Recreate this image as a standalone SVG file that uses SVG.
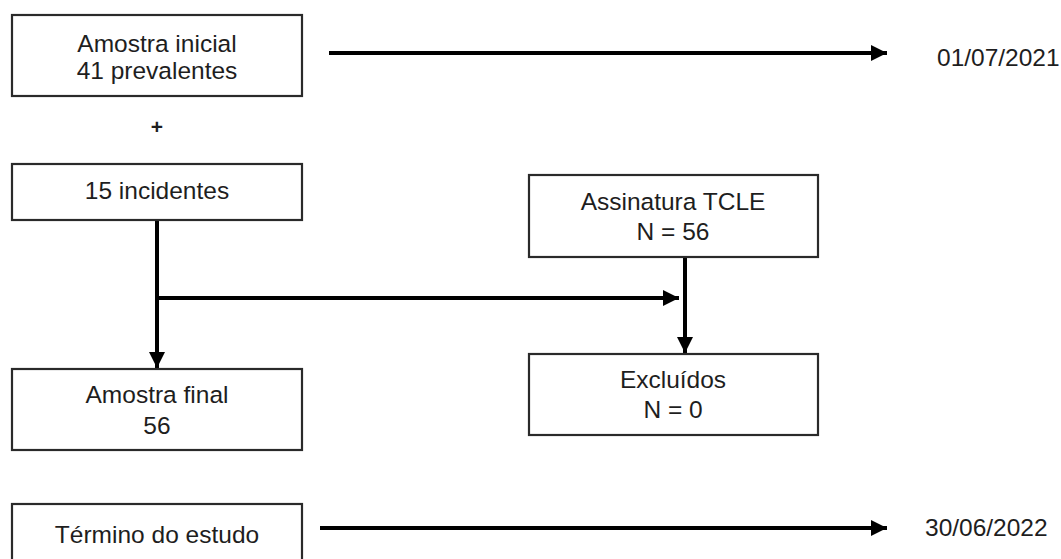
<svg xmlns="http://www.w3.org/2000/svg" width="1061" height="559" viewBox="0 0 1061 559">
  <defs>
    <style>
      .box { fill: #ffffff; stroke: #2a2a2a; stroke-width: 2.2; }
      .lbl { font-family: "Liberation Sans", Arial, sans-serif; font-size: 24.5px; fill: #1e1e1e; text-anchor: middle; }
      .date { font-family: "Liberation Sans", Arial, sans-serif; font-size: 24.5px; fill: #1e1e1e; }
      .wire { stroke: #000000; stroke-width: 4; fill: none; }
    </style>
    <marker id="head" viewBox="0 0 10 10" refX="10" refY="5" markerWidth="4" markerHeight="4" markerUnits="strokeWidth" orient="auto">
      <path d="M0,0 L10,5 L0,10 Z" fill="#000000"/>
    </marker>
  </defs>

  <rect width="1061" height="559" fill="#ffffff"/>

  <g id="connectors">
    <!-- timeline arrows -->
    <line class="wire" x1="329" y1="53" x2="887" y2="53" marker-end="url(#head)"/>
    <line class="wire" x1="320" y1="528" x2="887" y2="528" marker-end="url(#head)"/>
    <!-- incidentes down to amostra final -->
    <line class="wire" x1="157" y1="220" x2="157" y2="368" marker-end="url(#head)"/>
    <!-- branch to exclusion column -->
    <line class="wire" x1="157" y1="298" x2="679" y2="298" marker-end="url(#head)"/>
    <!-- TCLE down to excluidos -->
    <line class="wire" x1="685" y1="257" x2="685" y2="353" marker-end="url(#head)"/>
  </g>

  <g id="amostra-inicial">
    <rect class="box" x="12" y="15" width="290" height="81"/>
    <text class="lbl" x="157" y="52">Amostra inicial</text>
    <text class="lbl" x="157" y="79">41 prevalentes</text>
  </g>

  <g id="plus">
    <text x="157" y="134" font-family="Liberation Sans, Arial, sans-serif" font-size="21" font-weight="bold" fill="#1e1e1e" text-anchor="middle">+</text>
  </g>

  <g id="incidentes">
    <rect class="box" x="12" y="164" width="290" height="56"/>
    <text class="lbl" x="157" y="199">15 incidentes</text>
  </g>

  <g id="amostra-final">
    <rect class="box" x="12" y="369" width="290" height="81"/>
    <text class="lbl" x="157" y="403">Amostra final</text>
    <text class="lbl" x="157" y="434">56</text>
  </g>

  <g id="termino">
    <rect class="box" x="12" y="504" width="290" height="70"/>
    <text class="lbl" x="157" y="543">Término do estudo</text>
  </g>

  <g id="tcle">
    <rect class="box" x="529" y="175" width="289" height="82"/>
    <text class="lbl" x="673" y="210">Assinatura TCLE</text>
    <text class="lbl" x="673" y="240">N = 56</text>
  </g>

  <g id="excluidos">
    <rect class="box" x="529" y="354" width="289" height="81"/>
    <text class="lbl" x="673" y="388">Excluídos</text>
    <text class="lbl" x="673" y="418">N = 0</text>
  </g>

  <g id="datas">
    <text class="date" x="937" y="66">01/07/2021</text>
    <text class="date" x="925" y="536">30/06/2022</text>
  </g>
</svg>
